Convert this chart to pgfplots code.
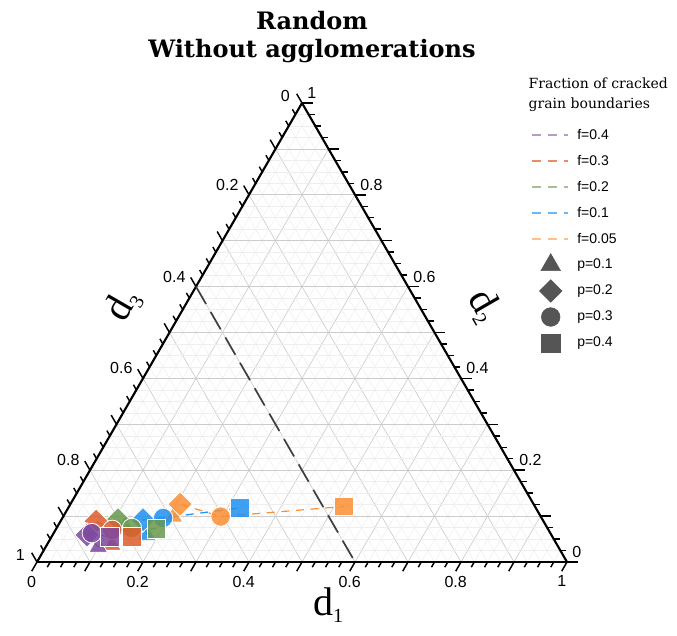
\documentclass[border=0pt]{standalone}
\usepackage{pgfplots}
\pgfplotsset{compat=1.18}
\usepgfplotslibrary{ternary}
\usepackage{fontspec}
\setmainfont{Liberation Sans}
\newfontfamily\titlefont{DejaVu Serif}
\newfontfamily\labfont{Liberation Serif}
\definecolor{cpur}{RGB}{124,72,158}
\definecolor{cred}{RGB}{222,92,42}
\definecolor{cgrn}{RGB}{104,152,78}
\definecolor{cblu}{RGB}{30,144,240}
\definecolor{corg}{RGB}{250,142,52}
\definecolor{cmk}{RGB}{85,85,85}
\pgfplotsset{
  tri/.style={only marks, mark=triangle*, mark size=8pt, mark options={draw=white, line width=0.6pt, fill opacity=0.85}},
  dia/.style={only marks, mark=square*, mark size=6.5pt, mark options={rotate=45, draw=white, line width=0.6pt, fill opacity=0.85}},
  circ/.style={only marks, mark=*, mark size=7.3pt, mark options={draw=white, line width=0.6pt, fill opacity=0.85}},
  sq/.style={only marks, mark=square*, mark size=7pt, mark options={draw=white, line width=0.6pt, fill opacity=0.85}},
  conn/.style={dashed, dash pattern=on 6pt off 5pt, line width=0.9pt, mark=none},
  legline/.style={legend image code/.code={\draw[##1] (0pt,0pt) -- (27pt,0pt);}},
  legmark/.style={legend image code/.code={\draw[##1] plot coordinates {(14pt,0pt)};}},
}
\begin{document}
\begin{tikzpicture}
\begin{ternaryaxis}[
  scale only axis, width=397.5pt, height=344.2pt,
  clip=false,
  xmin=0,xmax=1,ymin=0,ymax=1,zmin=0,zmax=1,
  grid=both, minor tick num=3,
  major grid style={gray!40, line width=0.5pt},
  minor grid style={gray!13, line width=0.4pt},
  axis line style={black, line width=1.6pt},
  tick style={black, line width=1.1pt},
  major tick length=8pt, minor tick length=4.5pt,
  xticklabels={,0,,0.2,,0.4,,0.6,,0.8,,1},
  yticklabels={,0,,0.2,,0.4,,0.6,,0.8,,1},
  zticklabels={,0,,0.2,,0.4,,0.6,,0.8,,1},
  ticklabel style={font=\fontsize{12}{12}\selectfont},
  xticklabel style={xshift=-7.5pt, yshift=7.5pt},
  yticklabel style={yshift=-6.5pt},
  legend cell align=left,
  legend style={draw=none, fill=none, at={(0.925,0.965)}, anchor=north west,
    font=\fontsize{10.5}{12}\selectfont, row sep=0pt,
    nodes={inner sep=1.5pt, minimum height=19.5pt},
    /tikz/every odd column/.append style={column sep=5pt}},
]
% reference line d3 = 0.4
\addplot3[forget plot, black!75, line width=1.3pt, dash pattern=on 15pt off 7pt] coordinates {(0.6,0.4,0) (0,0.4,0.6)};

% coordinates: (d2, d3, d1); order p=0.1, 0.2, 0.3, 0.4
% f = 0.05
\addplot3[forget plot, conn, corg] coordinates {(0.099,0.693,0.208) (0.126,0.667,0.207) (0.099,0.604,0.297) (0.121,0.360,0.519)};
\addplot3[forget plot, tri, corg] coordinates {(0.099,0.693,0.208)};
\addplot3[forget plot, dia, corg] coordinates {(0.126,0.667,0.207)};
\addplot3[forget plot, circ, corg] coordinates {(0.099,0.604,0.297)};
\addplot3[forget plot, sq, corg] coordinates {(0.121,0.360,0.519)};
% f = 0.1
\addplot3[forget plot, conn, cblu] coordinates {(0.059,0.763,0.178) (0.092,0.754,0.154) (0.096,0.714,0.190) (0.118,0.558,0.324)};
\addplot3[forget plot, tri, cblu] coordinates {(0.059,0.763,0.178)};
\addplot3[forget plot, dia, cblu] coordinates {(0.092,0.754,0.154)};
\addplot3[forget plot, circ, cblu] coordinates {(0.096,0.714,0.190)};
\addplot3[forget plot, sq, cblu] coordinates {(0.118,0.558,0.324)};
% f = 0.2
\addplot3[forget plot, conn, cgrn] coordinates {(0.078,0.795,0.127) (0.092,0.801,0.107) (0.074,0.784,0.142) (0.072,0.739,0.189)};
\addplot3[forget plot, tri, cgrn] coordinates {(0.078,0.795,0.127)};
\addplot3[forget plot, dia, cgrn] coordinates {(0.092,0.801,0.107)};
\addplot3[forget plot, circ, cgrn] coordinates {(0.074,0.784,0.142)};
\addplot3[forget plot, sq, cgrn] coordinates {(0.072,0.739,0.189)};
% f = 0.3
\addplot3[forget plot, conn, cred] coordinates {(0.037,0.840,0.123) (0.089,0.844,0.067) (0.070,0.823,0.107) (0.054,0.794,0.152)};
\addplot3[forget plot, tri, cred] coordinates {(0.037,0.840,0.123)};
\addplot3[forget plot, dia, cred] coordinates {(0.089,0.844,0.067)};
\addplot3[forget plot, circ, cred] coordinates {(0.070,0.823,0.107)};
\addplot3[forget plot, sq, cred] coordinates {(0.054,0.794,0.152)};
% f = 0.4
\addplot3[forget plot, conn, cpur] coordinates {(0.033,0.868,0.099) (0.059,0.876,0.065) (0.063,0.865,0.072) (0.054,0.835,0.111)};
\addplot3[forget plot, tri, cpur] coordinates {(0.033,0.868,0.099)};
\addplot3[forget plot, dia, cpur] coordinates {(0.059,0.876,0.065)};
\addplot3[forget plot, circ, cpur] coordinates {(0.063,0.865,0.072)};
\addplot3[forget plot, sq, cpur] coordinates {(0.054,0.835,0.111)};

% legend
\addlegendimage{legline, cpur!55, line width=0.8pt, dash pattern=on 6.5pt off 5.5pt}
\addlegendentry{f=0.4}
\addlegendimage{legline, cred!70, line width=0.8pt, dash pattern=on 6.5pt off 5.5pt}
\addlegendentry{f=0.3}
\addlegendimage{legline, cgrn!60, line width=0.8pt, dash pattern=on 6.5pt off 5.5pt}
\addlegendentry{f=0.2}
\addlegendimage{legline, cblu!65, line width=0.8pt, dash pattern=on 6.5pt off 5.5pt}
\addlegendentry{f=0.1}
\addlegendimage{legline, corg!55, line width=0.8pt, dash pattern=on 6.5pt off 5.5pt}
\addlegendentry{f=0.05}
\addlegendimage{only marks, mark=triangle*, mark size=8.5pt, cmk, legmark}
\addlegendentry{p=0.1}
\addlegendimage{only marks, mark=square*, mark size=6pt, mark options={rotate=45}, cmk, legmark}
\addlegendentry{p=0.2}
\addlegendimage{only marks, mark=*, mark size=7pt, cmk, legmark}
\addlegendentry{p=0.3}
\addlegendimage{only marks, mark=square*, mark size=6.8pt, cmk, legmark}
\addlegendentry{p=0.4}

\coordinate (BL) at (axis cs:0,1,0);
\end{ternaryaxis}
\begin{scope}[shift={(BL)}, x=0.75pt, y=-0.75pt, shift={(-37,-562)}]
  \node[font=\titlefont\bfseries\fontsize{18}{21}\selectfont, align=center] at (312,37) {Random\\Without agglomerations};
  \node[font=\titlefont\fontsize{10.5}{15}\selectfont, align=left, anchor=west] at (524,95) {Fraction of cracked\\grain boundaries};
  \node[font=\labfont\fontsize{30}{30}\selectfont] at (328,605) {d\raisebox{-0.35ex}{\fontsize{15}{15}\selectfont 1}};
  \node[font=\labfont\fontsize{30}{30}\selectfont, rotate=60] at (123,305) {d\raisebox{-0.35ex}{\fontsize{15}{15}\selectfont 3}};
  \node[font=\labfont\fontsize{30}{30}\selectfont, rotate=-60] at (484,306) {d\raisebox{-0.35ex}{\fontsize{15}{15}\selectfont 2}};
  \pgfresetboundingbox
  \path[use as bounding box] (0,0) rectangle (677,635);
\end{scope}
\end{tikzpicture}
\end{document}
